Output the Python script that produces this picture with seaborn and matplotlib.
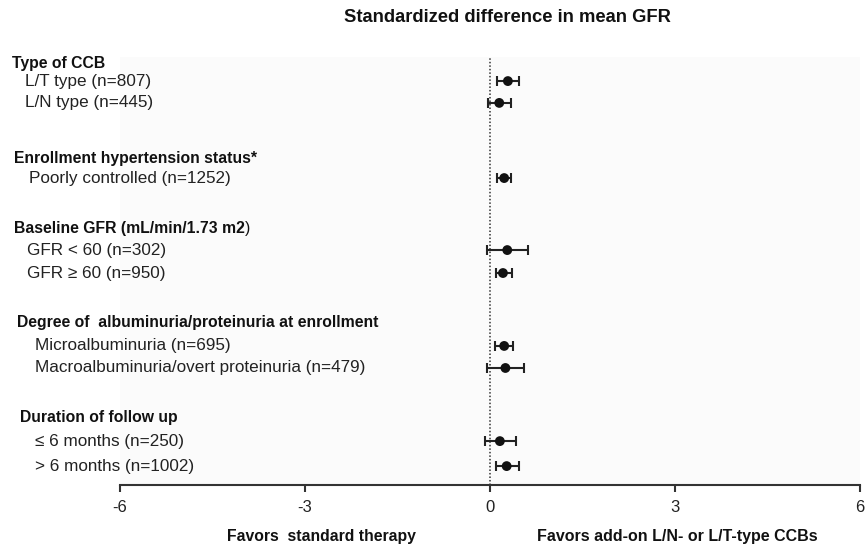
import numpy as np
import pandas as pd
import matplotlib.pyplot as plt
import seaborn as sns
from matplotlib.transforms import blended_transform_factory

# data
groups = ["Type of CCB", "Enrollment hypertension status*",
          "Baseline GFR (mL/min/1.73 m2",
          "Degree of  albuminuria/proteinuria at enrollment",
          "Duration of follow up"]
group_tail = ["", "", ")", "", ""]  # closing paren is not bold in the original
subgroups = ["L/T type (n=807)", "L/N type (n=445)",
             "Poorly controlled (n=1252)",
             "GFR < 60 (n=302)", "GFR \u2265 60 (n=950)",
             "Microalbuminuria (n=695)",
             "Macroalbuminuria/overt proteinuria (n=479)",
             "\u2264 6 months (n=250)", "> 6 months (n=1002)"]
estimate = [0.29, 0.15, 0.23, 0.28, 0.21, 0.23, 0.25, 0.16, 0.27]
ci_low = [0.11, -0.03, 0.11, -0.05, 0.09, 0.08, -0.05, -0.08, 0.09]
ci_high = [0.47, 0.34, 0.34, 0.61, 0.36, 0.38, 0.55, 0.42, 0.47]
x_ticks = [-6, -3, 0, 3, 6]

# layout: vertical row positions (in text-line units) and indents
group_rows = [0.0, 4.18, 7.29, 11.51, 15.73]
group_x = [12, 14, 14, 17, 20]
sub_rows = [0.76, 1.73, 5.07, 8.27, 9.29, 12.53, 13.51, 16.76, 17.87]
sub_x = [25, 25, 29, 27, 27, 35, 35, 35, 35]

df = pd.DataFrame({"label": subgroups, "est": estimate,
                   "lo": ci_low, "hi": ci_high, "y": sub_rows})

sns.set_style("white")
plt.rcParams["font.family"] = ["Liberation Sans", "DejaVu Sans"]

W, H = 865, 547
fig = plt.figure(figsize=(W / 100, H / 100), dpi=100)
ax = fig.add_axes([120 / W, (H - 485) / H, 740 / W, (485 - 57) / H])
ax.set_facecolor("#fbfbfb")

ax.axvline(0, color="#333333", lw=1.1, ls=(0, (1, 1.3)), zorder=1)
ax.errorbar(df["est"], df["y"], xerr=[df["est"] - df["lo"], df["hi"] - df["est"]],
            fmt="none", ecolor="#222222", elinewidth=1.5, capsize=3.7,
            capthick=1.5, zorder=2)
sns.scatterplot(data=df, x="est", y="y", color="#111111", s=50,
                edgecolor="none", zorder=3, ax=ax, legend=False)

ax.set_xlim(-6, 6)
ax.set_ylim(18.71, -0.31)
ax.set_xticks(x_ticks)
ax.set_xticklabels([str(t) for t in x_ticks], fontsize=12, color="#222222")
ax.set_yticks([])
ax.set_xlabel("")
ax.set_ylabel("")
for s in ["left", "right", "top"]:
    ax.spines[s].set_visible(False)
ax.spines["bottom"].set_color("#333333")
ax.spines["bottom"].set_linewidth(1.5)
ax.tick_params(axis="x", direction="out", length=5, width=1.5,
               color="#333333", pad=6, bottom=True)

tr = blended_transform_factory(fig.transFigure, ax.transData)
for name, tail, gy, gx in zip(groups, group_tail, group_rows, group_x):
    t = ax.text(gx / W, gy, name, transform=tr, fontsize=11.3, fontweight="bold",
                va="center", ha="left", color="#111111")
    if tail:
        ax.annotate(tail, xy=(1, 0.5), xycoords=t, fontsize=11.3,
                    va="center", ha="left", color="#111111")
for name, sy, sx in zip(subgroups, sub_rows, sub_x):
    ax.text(sx / W, sy, name, transform=tr, fontsize=12.3,
            va="center", ha="left", color="#222222")

fig.text(507 / W, 1 - 18 / H, "Standardized difference in mean GFR",
         fontsize=13.2, fontweight="bold", ha="center", va="center", color="#111111")
fig.text(321 / W, 1 - 537 / H, "Favors  standard therapy",
         fontsize=11.3, fontweight="bold", ha="center", va="center", color="#111111")
fig.text(677 / W, 1 - 537 / H, "Favors add-on L/N- or L/T-type CCBs",
         fontsize=11.5, fontweight="bold", ha="center", va="center", color="#111111")

fig.savefig("out.png", dpi=100, facecolor="white")
